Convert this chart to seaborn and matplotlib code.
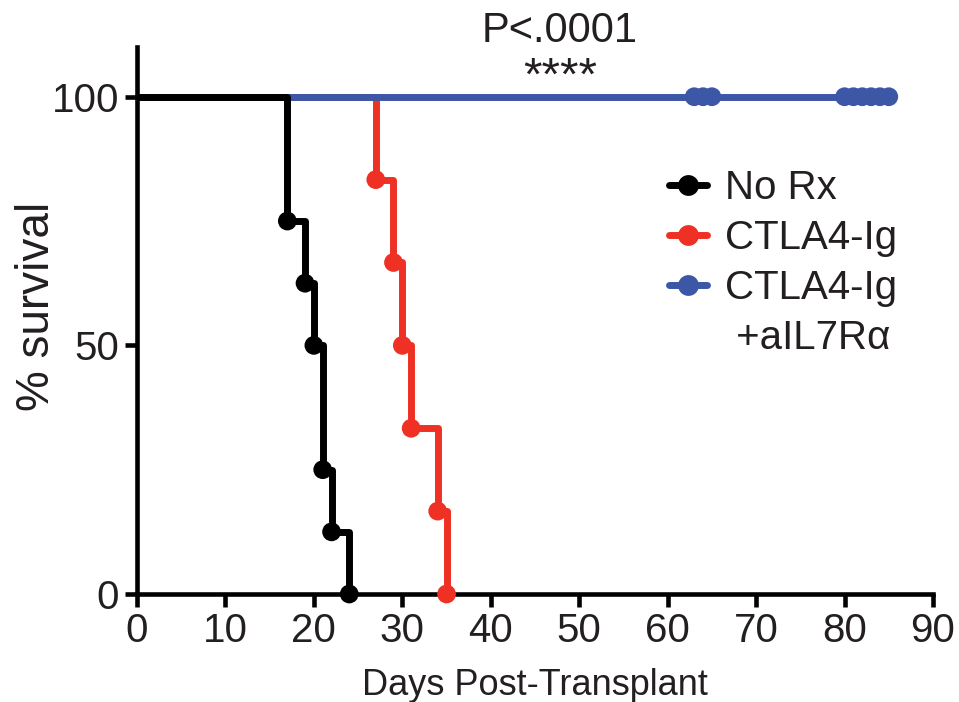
import matplotlib
matplotlib.use("Agg")
import matplotlib.pyplot as plt
import seaborn as sns
import pandas as pd
from matplotlib.lines import Line2D

# Data
norx_days = [0, 17, 19, 20, 21, 22, 24]
norx_surv = [100, 75, 62.5, 50, 25, 12.5, 0]
ctla_days = [0, 27, 29, 30, 31, 34, 35]
ctla_surv = [100, 83.33, 66.67, 50, 33.33, 16.67, 0]
combo_days = [0, 85]
combo_surv = [100, 100]
combo_censor_days = [63, 64, 65, 80, 81, 82, 83, 84, 85]
combo_censor_surv = [100] * len(combo_censor_days)
labels = ["No Rx", "CTLA4-Ig", "CTLA4-Ig\n+aIL7R\u03b1"]
colors = ["#000000", "#ee3124", "#3d57a7"]
xticks = list(range(0, 91, 10))
yticks = [0, 50, 100]

sns.set_style("ticks")
plt.rcParams['font.family'] = ['Liberation Sans', 'DejaVu Sans']
txt = "#231f20"

fig = plt.figure(figsize=(9.59, 7.02), dpi=100)
ax = fig.add_axes([137/959, 1-594/702, (933-137)/959, (594-47)/702])

lw = 5.0
ms = 13.5

# red (lowest)
df_r = pd.DataFrame({"d": ctla_days, "s": ctla_surv})
sns.lineplot(data=df_r, x="d", y="s", color=colors[1], linewidth=lw, drawstyle="steps-post",
             ax=ax, clip_on=False, zorder=3)
sns.scatterplot(x=ctla_days[1:], y=ctla_surv[1:], color=colors[1], s=ms**2,
                edgecolor="none", ax=ax, clip_on=False, zorder=4)

# blue
df_c = pd.DataFrame({"d": combo_days, "s": combo_surv})
sns.lineplot(data=df_c, x="d", y="s", color=colors[2], linewidth=lw, drawstyle="steps-post",
             ax=ax, clip_on=False, zorder=5)
sns.scatterplot(x=combo_censor_days, y=combo_censor_surv, color=colors[2], s=ms**2,
                edgecolor="none", ax=ax, clip_on=False, zorder=6)

# black
df_b = pd.DataFrame({"d": norx_days, "s": norx_surv})
sns.lineplot(data=df_b, x="d", y="s", color=colors[0], linewidth=lw, drawstyle="steps-post",
             ax=ax, clip_on=False, zorder=7)
sns.scatterplot(x=norx_days[1:], y=norx_surv[1:], color=colors[0], s=ms**2,
                edgecolor="none", ax=ax, clip_on=False, zorder=8)

ax.set_xlim(0, 90)
ax.set_ylim(0, 110)
ax.set_xticks(xticks)
ax.set_yticks(yticks)
ax.tick_params(axis="both", direction="out", length=9, width=3.3,
               labelsize=29, labelcolor=txt, color="black", pad=4)
for sp in ["left", "bottom"]:
    ax.spines[sp].set_linewidth(3.3)
    ax.spines[sp].set_color("black")
    ax.spines[sp].set_zorder(2)
for sp in ["top", "right"]:
    ax.spines[sp].set_visible(False)

ax.set_xlabel("Days Post-Transplant", fontsize=26, color=txt, labelpad=13)
ax.set_ylabel("% survival", fontsize=33, color=txt)
ax.yaxis.set_label_coords(-0.098, 0.525)

ax.text(47.8, 113.2, "P<.0001", fontsize=30, color=txt, ha="center", va="center")
ax.text(47.8, 103.8, "****", fontsize=34, color=txt, ha="center", va="center")

# legend: third label split so the handle sits beside its first line
handles = [Line2D([0], [0], color=c, linewidth=lw, marker="o", markersize=ms + 1.5,
                  markeredgewidth=0, solid_capstyle="round") for c in colors]
leg_labels = labels[:2] + labels[2].split("\n")
leg_labels[3] = " " + leg_labels[3]
handles.append(Line2D([0], [0], color="none", linewidth=0))
leg = ax.legend(handles, leg_labels, loc="upper left", bbox_to_anchor=(0.6475, 0.807),
                frameon=False, fontsize=29, handlelength=0.95, handletextpad=0.45,
                labelspacing=0.3, borderaxespad=0)
for t in leg.get_texts():
    t.set_color(txt)

fig.savefig("out.png", dpi=100)
